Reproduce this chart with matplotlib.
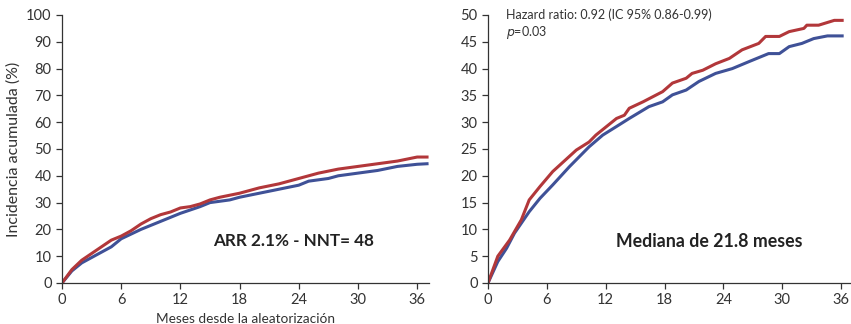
import matplotlib
matplotlib.use("Agg")
import matplotlib.pyplot as plt

plt.rcParams['font.family'] = ['Lato', 'DejaVu Sans']

# == Left panel: cumulative incidence (%) == #
left_months_red = [0, 1, 2, 3, 4, 5, 6, 7, 8, 9, 10, 11, 12, 13, 14, 15, 16, 18, 20, 22, 24, 26, 28, 30, 32, 34, 36, 37]
left_red = [0, 5, 8.5, 11, 13.5, 16, 17.5, 19.5, 22, 24, 25.5, 26.5, 28, 28.5, 29.5, 31, 32, 33.5, 35.5, 37, 39, 41, 42.5, 43.5, 44.5, 45.5, 47, 47]
left_months_blue = [0, 1, 2, 3, 4, 5, 6, 8, 10, 12, 14, 15, 17, 18, 20, 22, 24, 25, 27, 28, 30, 32, 34, 36, 37]
left_blue = [0, 4.5, 7.5, 9.5, 11.5, 13.5, 16.5, 20, 23, 26, 28.5, 30, 31, 32, 33.5, 35, 36.5, 38, 39, 40, 41, 42, 43.5, 44.3, 44.5]

# == Right panel == #
right_months_red = [0, 1.0, 2.2, 3.4, 4.2, 5.3, 6.6, 9.0, 10.3, 11.0, 13.1, 13.9, 14.4, 15.8, 17.8, 18.8, 20.2, 20.8,
                    21.9, 23.2, 24.6, 25.9, 27.6, 28.3, 29.7, 30.7, 32.2, 32.5, 33.7, 35.3, 36.1]
right_red = [0, 5.0, 8.0, 11.8, 15.5, 18, 20.8, 24.8, 26.3, 27.6, 30.7, 31.3, 32.6, 33.8, 35.7, 37.3, 38.2, 39.1,
             39.7, 40.9, 41.9, 43.5, 44.7, 46, 46, 46.9, 47.5, 48.1, 48.1, 49, 49]
right_months_blue = [0, 1.0, 1.9, 2.7, 4.2, 5.3, 6.6, 8.3, 10.3, 11.7, 13.1, 14.4, 16.4, 17.8, 18.8, 20.2, 21.5,
                     23.2, 24.9, 26.6, 28.6, 29.7, 30.7, 32.0, 33.2, 34.6, 36.1]
right_blue = [0, 4.0, 6.5, 9.3, 13.3, 15.8, 18.3, 21.7, 25.4, 27.6, 29.2, 30.7, 32.9, 33.8, 35.1, 36.0, 37.6,
              39.1, 40.0, 41.3, 42.8, 42.8, 44.1, 44.7, 45.6, 46.1, 46.1]

x_ticks = [0, 6, 12, 18, 24, 30, 36]
red = '#b2373a'
blue = '#3f5197'
txt = '#333333'

fig = plt.figure(figsize=(8.51, 3.24), dpi=100)
ax1 = fig.add_axes([62/851, 1-283/324, (429-62)/851, (283-15)/324])
ax2 = fig.add_axes([488/851, 1-283/324, (850-488)/851, (283-15)/324])

for ax in (ax1, ax2):
    for s in ('top', 'right'):
        ax.spines[s].set_visible(False)
    for s in ('left', 'bottom'):
        ax.spines[s].set_color(txt)
        ax.spines[s].set_linewidth(0.9)
    ax.tick_params(colors=txt, labelsize=10.5, length=4, width=0.9)
    ax.set_xticks(x_ticks)

ax1.plot(left_months_blue, left_blue, color=blue, lw=2.2)
ax1.plot(left_months_red, left_red, color=red, lw=2.2)
ax1.set_xlim(0, 37.2)
ax1.set_ylim(0, 100)
ax1.set_yticks(range(0, 101, 10))
ax1.set_ylabel('Incidencia acumulada (%)', fontsize=11.5, color=txt, labelpad=4)
ax1.set_xlabel('Meses desde la aleatorización', fontsize=9.8, color=txt, labelpad=4)
ax1.text(0.63, 0.155, 'ARR 2.1% - NNT= 48', transform=ax1.transAxes, ha='center', va='center',
         fontsize=12.3, fontweight='bold', color='#222222')

ax2.plot(right_months_blue, right_blue, color=blue, lw=2.2)
ax2.plot(right_months_red, right_red, color=red, lw=2.2)
ax2.set_xlim(0, 36.9)
ax2.set_ylim(0, 50)
ax2.set_yticks(range(0, 51, 5))
ax2.text(0.05, 1.0, 'Hazard ratio: 0.92 (IC 95% 0.86-0.99)', transform=ax2.transAxes, ha='left', va='center',
         fontsize=9, color=txt)
ax2.text(0.05, 0.935, r'$p$=0.03', transform=ax2.transAxes, ha='left', va='center',
         fontsize=9, color=txt)
ax2.text(0.61, 0.155, 'Mediana de 21.8 meses', transform=ax2.transAxes, ha='center', va='center',
         fontsize=12.8, fontweight='bold', color='#222222')

fig.savefig('out.png', dpi=100)
